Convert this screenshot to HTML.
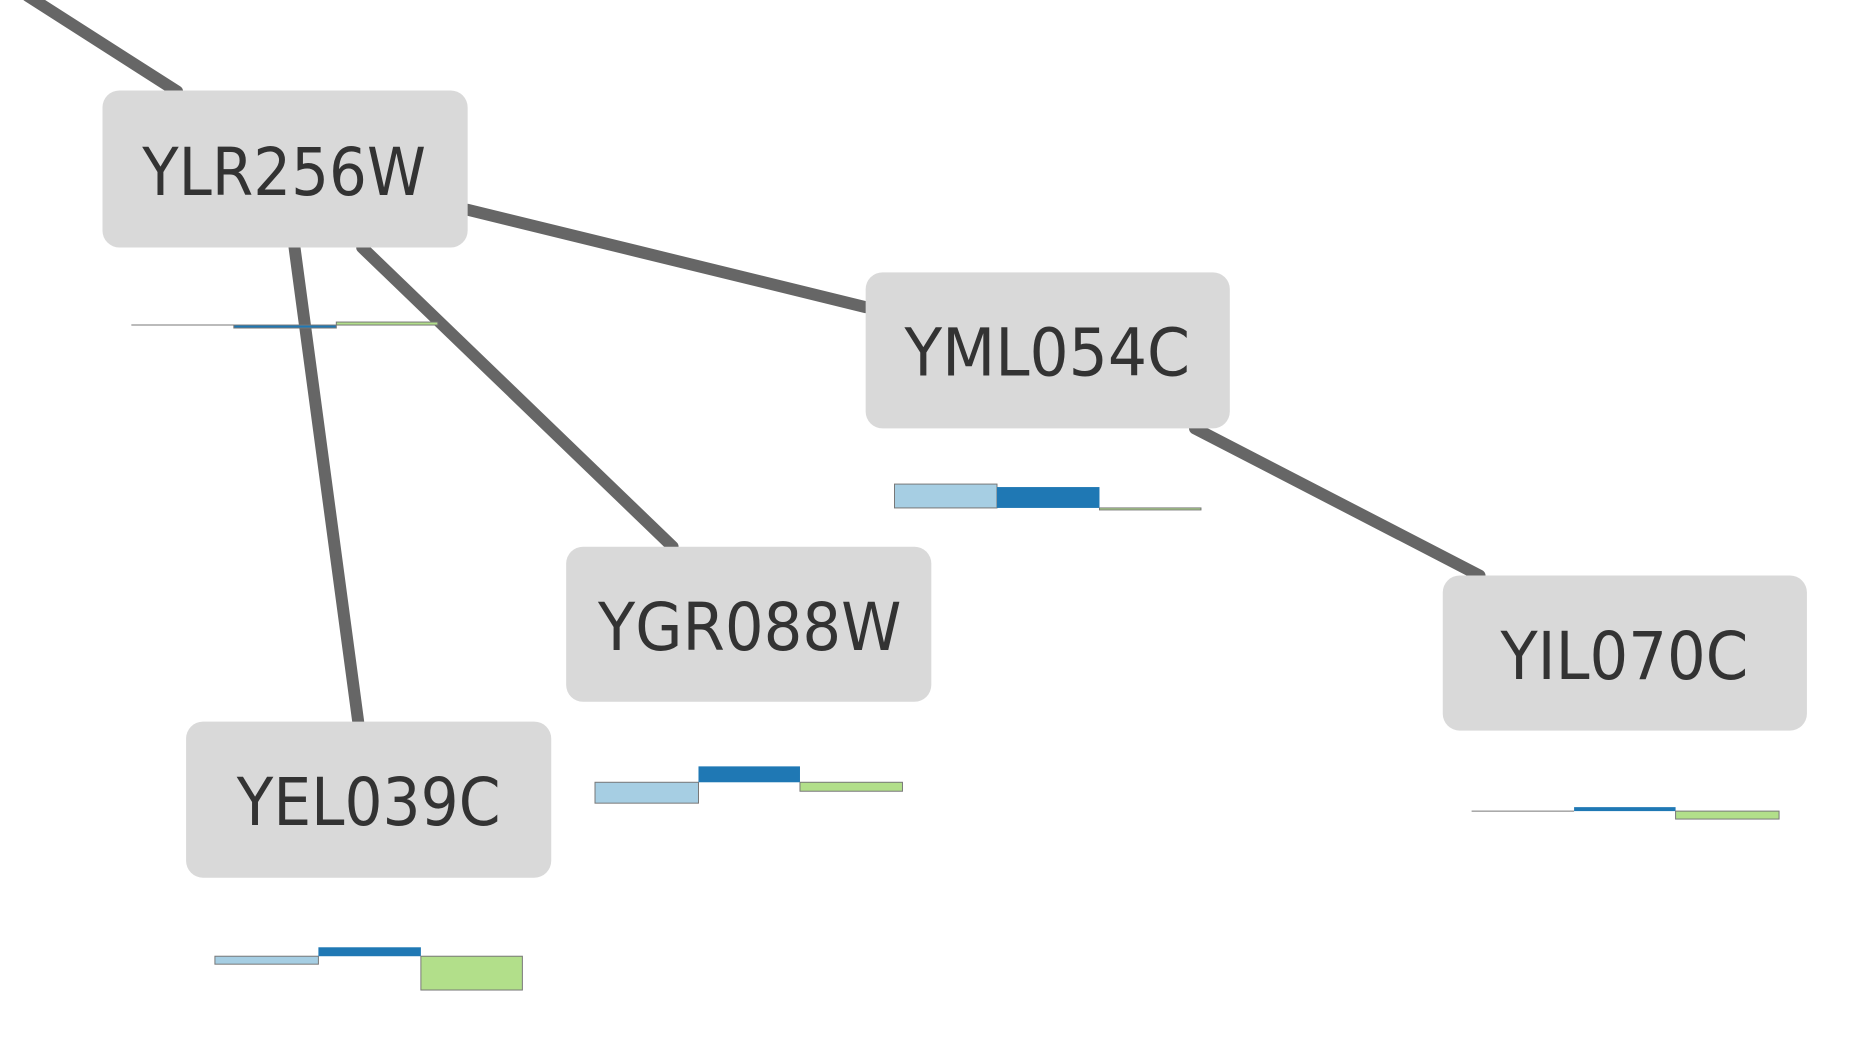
<!DOCTYPE html>
<html><head><meta charset="utf-8"><style>html,body{margin:0;padding:0;background:#fff}svg{display:block}</style></head>
<body>
<svg width="1874" height="1050" viewBox="0 0 1874 1050" xmlns="http://www.w3.org/2000/svg">
<g transform="scale(0.995 0.994)">
<g stroke="#666" stroke-width="12" stroke-linecap="round" fill="none">
<line x1="28" y1="-4" x2="178" y2="92"/>
<line x1="296" y1="249" x2="360" y2="726"/>
<line x1="364" y1="249" x2="676" y2="550"/>
<line x1="470" y1="211" x2="870" y2="309"/>
<line x1="1201" y1="431" x2="1487" y2="579"/>
</g>
<g fill="#d9d9d9">
<rect x="103" y="91" width="367" height="158" rx="17"/>
<rect x="870" y="274" width="366" height="157" rx="17"/>
<rect x="569" y="550" width="367" height="156" rx="17"/>
<rect x="187" y="726" width="367" height="157" rx="17"/>
<rect x="1450" y="579" width="366" height="156" rx="17"/>
</g>
<g font-family="DejaVu Sans, Liberation Sans, sans-serif" font-size="66" fill="#333">
<text x="143" y="196" textLength="285" lengthAdjust="spacingAndGlyphs">YLR256W</text>
<text x="909" y="378" textLength="287" lengthAdjust="spacingAndGlyphs">YML054C</text>
<text x="601" y="654" textLength="305" lengthAdjust="spacingAndGlyphs">YGR088W</text>
<text x="238" y="830" textLength="265" lengthAdjust="spacingAndGlyphs">YEL039C</text>
<text x="1508" y="683" textLength="249" lengthAdjust="spacingAndGlyphs">YIL070C</text>
</g>
<g stroke="#777" stroke-width="1">
<line x1="132" y1="327" x2="235" y2="327"/>
<rect x="235" y="327" width="103" height="3" fill="#1f78b4"/>
<rect x="338" y="324" width="102" height="3" fill="#b2df8a"/>
<rect x="899" y="487" width="103" height="24" fill="#a6cee3"/>
<rect x="1002" y="490" width="103" height="21" fill="#1f78b4" stroke="none"/>
<rect x="1105" y="511" width="102" height="2" fill="#b2df8a"/>
<rect x="598" y="787" width="104" height="21" fill="#a6cee3"/>
<rect x="702" y="771" width="102" height="16" fill="#1f78b4" stroke="none"/>
<rect x="804" y="787" width="103" height="9" fill="#b2df8a"/>
<rect x="216" y="962" width="104" height="8" fill="#a6cee3"/>
<rect x="320" y="953" width="103" height="9" fill="#1f78b4" stroke="none"/>
<rect x="423" y="962" width="102" height="34" fill="#b2df8a"/>
<line x1="1479" y1="816" x2="1582" y2="816"/>
<rect x="1582" y="812" width="102" height="4" fill="#1f78b4" stroke="none"/>
<rect x="1684" y="816" width="104" height="8" fill="#b2df8a"/>
</g>
</g>
</svg>
</body></html>
